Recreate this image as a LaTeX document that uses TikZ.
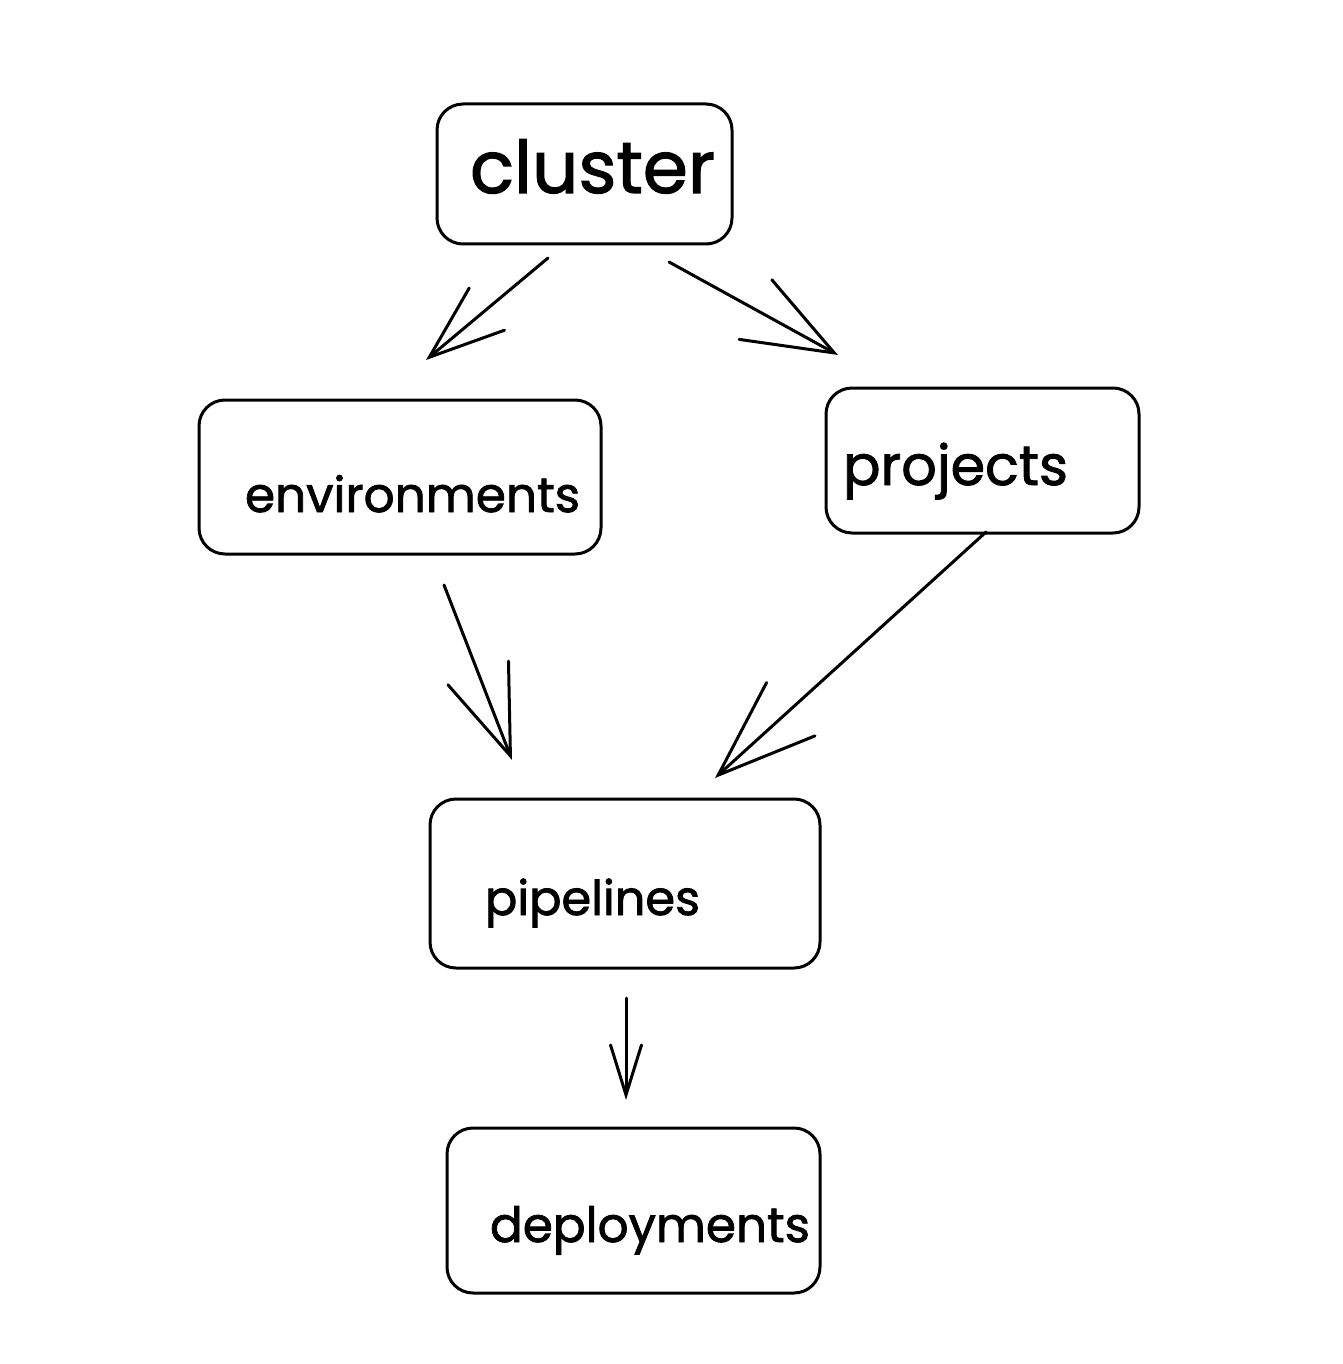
\documentclass[tikz,border=0pt]{standalone}
\usepackage{fontspec}
\setmainfont{Poppins}
\newfontfamily\hand{Poppins}[FakeBold=1.6]
\usetikzlibrary{arrows.meta}
\begin{document}
\begin{tikzpicture}[x=1pt,y=-1pt,
  box/.style={draw=black,line width=3pt,rounded corners=26pt,inner sep=0pt,outer sep=0pt,fill=white},
  lbl/.style={anchor=base west,inner sep=0pt,outer sep=0pt,text=black,font=\hand},
  conn/.style={draw=black,line width=3pt,line cap=round,line join=round}]
\fill[white] (0,0) rectangle (1342,1364);
\useasboundingbox (0,0) rectangle (1342,1364);
% boxes
\node[box,minimum width=295pt,minimum height=140pt] (cluster) at (584.5,174) {};
\node[box,minimum width=402pt,minimum height=154pt] (env) at (400,477) {};
\node[box,minimum width=313pt,minimum height=145pt] (proj) at (982.5,460.5) {};
\node[box,minimum width=390pt,minimum height=169pt] (pipe) at (625,883.5) {};
\node[box,minimum width=373pt,minimum height=165pt] (dep) at (633.5,1210.5) {};
% labels
\node[lbl] (tcluster) at (470,193) {\resizebox{245pt}{!}{cluster}};
\node[lbl] (tenv) at (245,512) {\resizebox{335pt}{!}{environments}};
\node[lbl] (tproj) at (843,485) {\resizebox{225pt}{!}{projects}};
\node[lbl] (tpipe) at (485,915) {\resizebox{215pt}{!}{pipelines}};
\node[lbl] (tdep) at (490,1242) {\resizebox{320pt}{!}{deployments}};
% connector ends
\coordinate (c1s) at (548,258); \coordinate (c1e) at (426,360);
\coordinate (c2s) at (669,262); \coordinate (c2e) at (838,355);
\coordinate (c3s) at (444,585); \coordinate (c3e) at (512,760);
\coordinate (c4s) at (986,532); \coordinate (c4e) at (715,778);
\coordinate (c5s) at (626,998); \coordinate (c5e) at (626,1100);
\draw[conn,-{Straight Barb[length=75pt,width=55pt,line cap=round]}] (c1s) -- (c1e);
\draw[conn,-{Straight Barb[length=90pt,width=68pt,line cap=round]}] (c2s) -- (c2e);
\draw[conn,-{Straight Barb[length=89pt,width=65pt,line cap=round]}] (c3s) -- (c3e);
\draw[conn,-{Straight Barb[length=98pt,width=72pt,line cap=round]}] (c4s) -- (c4e);
\draw[conn,-{Straight Barb[length=50pt,width=31pt,line cap=round]}] (c5s) -- (c5e);
\end{tikzpicture}
\end{document}
